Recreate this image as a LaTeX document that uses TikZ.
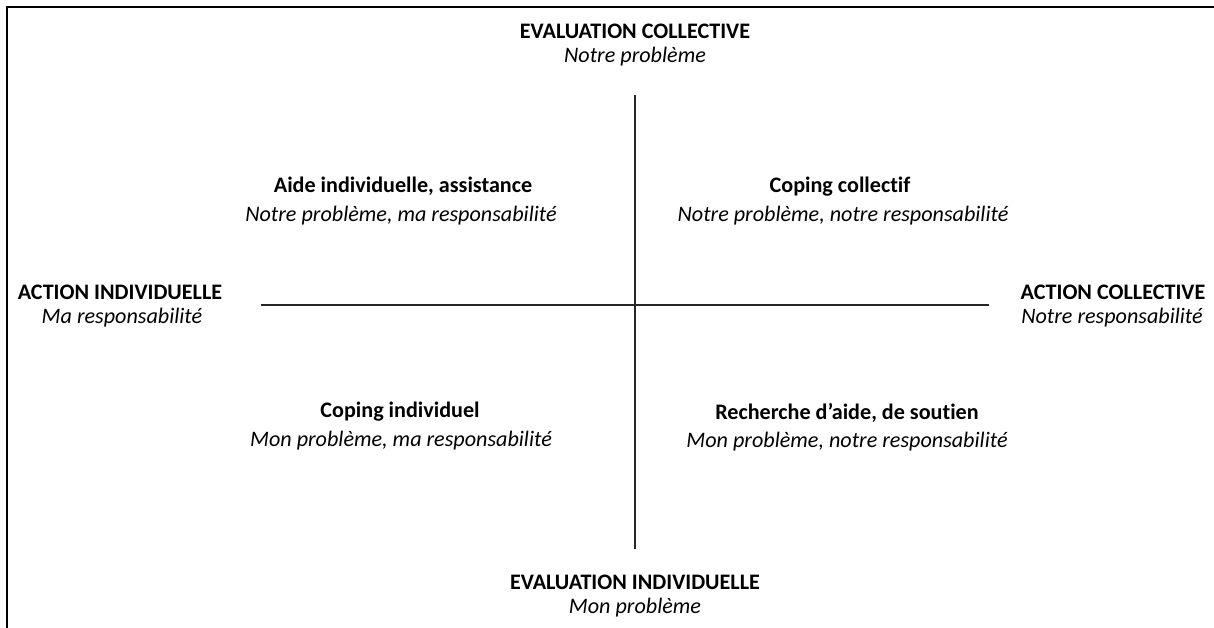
\documentclass[tikz,border=0pt]{standalone}
\usepackage{fontspec}
\setmainfont[Ligatures=NoCommon]{Carlito}
\begin{document}
\begin{tikzpicture}[x=0.75pt,y=-0.75pt,
	head/.style = {anchor=base, inner sep=0pt, font=\fontsize{16.6}{20}\selectfont\bfseries},
	sub/.style = {anchor=base, inner sep=0pt, font=\fontsize{16.6}{20}\selectfont\itshape},
	axis/.style = {line width=1.4pt, black!85}]
				\useasboundingbox (0,0) rectangle (1214,628);
				\draw[line width=1.5pt] (7,628) -- (7,7) -- (1214,7);

				\coordinate (top) at (635,95);
				\coordinate (bottom) at (635,549);
				\coordinate (left) at (261,305);
				\coordinate (right) at (989,305);

				\node[head] (evcoll) at (635,38) {EVALUATION COLLECTIVE};
				\node[sub] (evcollsub) at (635,62) {Notre problème};
				\node[head] (evind) at (635,589) {EVALUATION INDIVIDUELLE};
				\node[sub] (evindsub) at (635,613) {Mon problème};
				\node[head] (actind) at (120,299) {ACTION INDIVIDUELLE};
				\node[sub] (actindsub) at (122,323) {Ma responsabilité};
				\node[head] (actcoll) at (1113,299) {ACTION COLLECTIVE};
				\node[sub] (actcollsub) at (1112,323) {Notre responsabilité};

				\node[head] (aide) at (403,192) {Aide individuelle, assistance};
				\node[sub] (aidesub) at (401,221) {Notre problème, ma responsabilité};
				\node[head] (cocoll) at (840,192) {Coping collectif};
				\node[sub] (cocollsub) at (843,221) {Notre problème, notre responsabilité};
				\node[head] (coind) at (400,417) {Coping individuel};
				\node[sub] (coindsub) at (401,446) {Mon problème, ma responsabilité};
				\node[head] (rech) at (847,419) {Recherche d’aide, de soutien};
				\node[sub] (rechsub) at (847,447) {Mon problème, notre responsabilité};

				\draw[axis] (top) to (bottom)
				(left) to (right);

			\end{tikzpicture}
\end{document}
